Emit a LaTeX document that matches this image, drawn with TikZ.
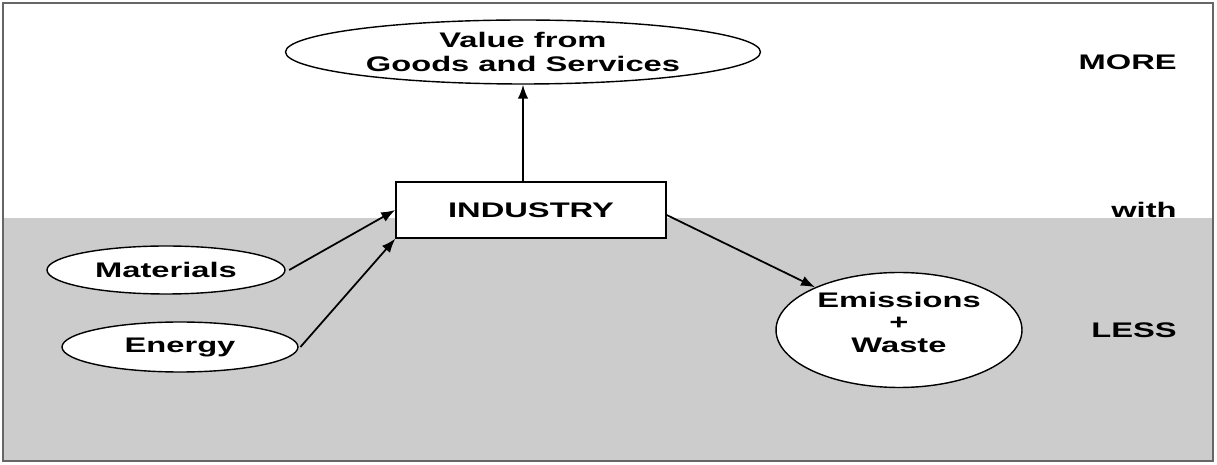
\documentclass[tikz,border=0pt]{standalone}
\usepackage{fontspec}
\setmainfont[FakeStretch=1.55]{Liberation Sans}
\usetikzlibrary{shapes.geometric,arrows.meta}

\tikzset{
    flowtext/.style={font=\fontsize{12}{13.5}\selectfont\bfseries, align=center},
    oval/.style={ellipse, draw, thick, fill=white, inner sep=0pt, flowtext},
    plant/.style={rectangle, draw, thick, fill=white, flowtext},
    flow/.style={-{Latex[length=8pt,width=6pt]}, line width=1pt},
    side/.style={font=\fontsize{12}{14}\selectfont\bfseries, anchor=east, inner sep=0pt},
}

\begin{document}
\begin{tikzpicture}[x=0.02cm, y=-0.02cm]

    % Page and shaded band
    \useasboundingbox (0,0) rectangle (1217,465);
    \fill[white] (0,0) rectangle (1217,465);
    \fill[black!20] (3,218) rectangle (1213,461);
    \draw[line width=1.2pt, black!60] (3,3) rectangle (1213,461);

    % Industry in the middle
    \node[plant, minimum width=5.4cm, minimum height=1.12cm] (industry) at (531,210) {INDUSTRY};

    % Output at the top
    \node[oval, minimum width=9.5cm, minimum height=1.28cm] (value) at (523,52) {Value from\\Goods and Services};

    % Inputs on the left
    \node[oval, minimum width=4.76cm, minimum height=0.96cm] (materials) at (166,270) {Materials};
    \node[oval, minimum width=4.72cm, minimum height=1.0cm] (energy) at (180,347) {Energy};

    % Outputs on the right
    \node[oval, minimum width=4.92cm, minimum height=2.3cm,
          label={[flowtext, font=\fontsize{12}{12.8}\selectfont\bfseries, yshift=4.5pt]center:{Emissions\\+\\Waste}}]
          (waste) at (899,330) {};

    % Connectors
    \draw[flow] (industry.north -| value.south) -- (value.south);
    \draw[flow] ([xshift=2pt]materials.east) -- (industry.west);
    \draw[flow] ([xshift=1pt]energy.east) -- (industry.south west);
    \draw[flow] ([yshift=-1mm]industry.east) -- (waste.153);

    % Labels at the side
    \node[side] (more) at (1177,62) {MORE};
    \node[side] (with) at (1177,210) {with};
    \node[side] (less) at (1177,330) {LESS};

\end{tikzpicture}
\end{document}
